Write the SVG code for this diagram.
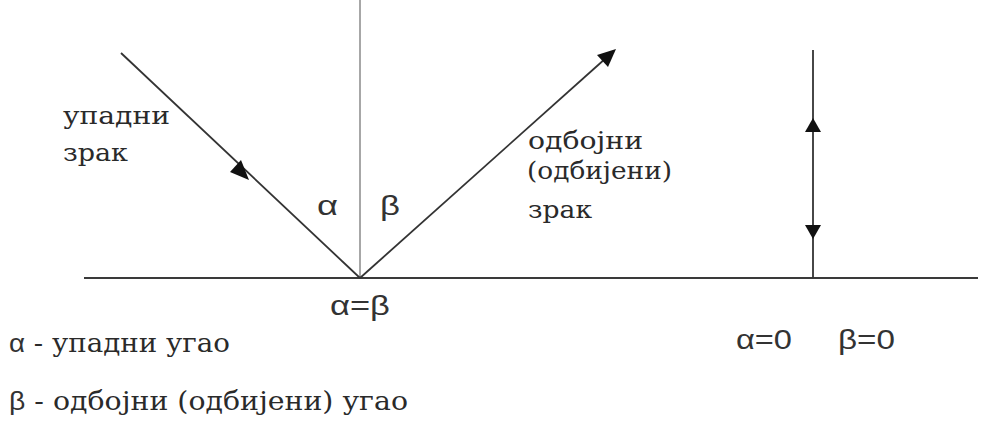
<svg xmlns="http://www.w3.org/2000/svg" width="1005" height="429" viewBox="0 0 1005 429">
<style>
.ser{font-family:"DejaVu Serif","Liberation Serif",serif;fill:#2a2a2a;}
.san{font-family:"Liberation Sans",Arial,sans-serif;fill:#333;}
.ray{stroke:#333;stroke-width:1.8;fill:none;}
.ah{fill:#111;}
</style>
<rect width="1005" height="429" fill="#fff"/>
<g id="connectors">
<line id="surface" x1="84" y1="278" x2="978" y2="278" stroke="#3a3a3a" stroke-width="2"/>
<line id="normal" x1="360" y1="0" x2="360" y2="278" stroke="#8a8a8a" stroke-width="1.5"/>
<line id="incident" class="ray" x1="121" y1="53" x2="360" y2="278"/>
<polygon class="ah" points="249,180 230,172 241,160"/>
<line id="reflected" class="ray" x1="360" y1="278" x2="606" y2="58"/>
<polygon class="ah" points="616,49 608,67 597,55"/>
<line id="perpendicular" class="ray" x1="813" y1="50" x2="813" y2="278"/>
<polygon class="ah" points="813,118 805,132 821,132"/>
<polygon class="ah" points="813,239 805,225 821,225"/>
</g>
<g id="label-incident">
<text class="ser" x="63" y="124" font-size="25" textLength="107" lengthAdjust="spacingAndGlyphs">упадни</text>
<text class="ser" x="63" y="161" font-size="25" textLength="65" lengthAdjust="spacingAndGlyphs">зрак</text>
</g>
<g id="label-reflected">
<text class="ser" x="528" y="149" font-size="25" textLength="115" lengthAdjust="spacingAndGlyphs">одбојни</text>
<text class="ser" x="527" y="179" font-size="25" textLength="145" lengthAdjust="spacingAndGlyphs">(одбијени)</text>
<text class="ser" x="528" y="218" font-size="25" textLength="64" lengthAdjust="spacingAndGlyphs">зрак</text>
</g>
<g id="angles">
<text class="san" x="317" y="215" font-size="28" textLength="21" lengthAdjust="spacingAndGlyphs">α</text>
<text class="san" x="380" y="215" font-size="28" textLength="20" lengthAdjust="spacingAndGlyphs">β</text>
<text class="san" x="330" y="315" font-size="27" textLength="60" lengthAdjust="spacingAndGlyphs">α=β</text>
</g>
<g id="legend">
<text x="9" y="352" font-size="26" textLength="221" lengthAdjust="spacingAndGlyphs"><tspan class="san">α</tspan><tspan class="ser"> - упадни угао</tspan></text>
<text x="9" y="410" font-size="26" textLength="399" lengthAdjust="spacingAndGlyphs"><tspan class="san">β</tspan><tspan class="ser"> - одбојни (одбијени) угао</tspan></text>
</g>
<g id="label-zero">
<text class="san" x="736" y="349" font-size="27" textLength="56" lengthAdjust="spacingAndGlyphs">α=0</text>
<text class="san" x="838" y="349" font-size="27" textLength="57" lengthAdjust="spacingAndGlyphs">β=0</text>
</g>
</svg>
